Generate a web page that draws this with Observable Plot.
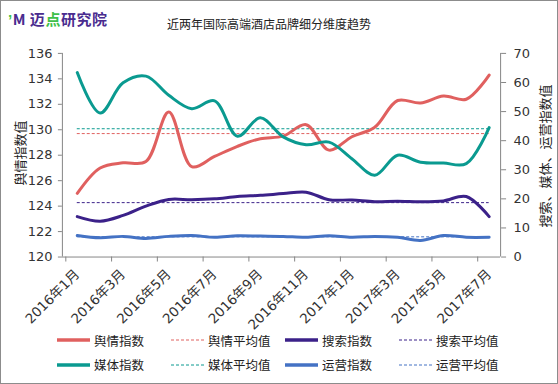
<!DOCTYPE html>
<html>
<head>
<meta charset="utf-8">
<script src="https://cdn.jsdelivr.net/npm/d3@7"></script>
<script src="https://cdn.jsdelivr.net/npm/@observablehq/plot@0.6"></script>
<style>
  html, body { margin: 0; padding: 0; background: #fff; }
  #wrap { position: relative; width: 558px; height: 384px; box-sizing: border-box; border: 1px solid #8c8c8c; overflow: hidden; font-family: "DejaVu Sans", "Noto Sans CJK SC", sans-serif; }
  #chart { position: absolute; left: -1px; top: -1px; }
  #title { position: absolute; left: 166px; top: 14px; font: 12px "Noto Sans CJK SC", sans-serif; color: #222; white-space: nowrap; }
  #logo { position: absolute; left: 7px; top: 7px; font: bold 15px "Noto Sans CJK SC", sans-serif; color: #4a2c8f; white-space: nowrap; letter-spacing: 0.5px; }
  #logo .g { color: #3fbf4a; }
  #legend { position: absolute; left: 56px; top: 327px; display: grid; grid-template-columns: repeat(4, 114px); grid-auto-rows: 24.5px; font: 12.5px "Noto Sans CJK SC", sans-serif; color: #222; }
  #legend .item { display: flex; align-items: center; white-space: nowrap; }
  #legend svg { margin-right: 4px; }
  .ytitle { position: absolute; font: 13px "Noto Sans CJK SC", sans-serif; color: #222; white-space: nowrap; transform: translate(-50%, -50%) rotate(-90deg); }
</style>
</head>
<body>
<div id="wrap">
  <div id="logo"><span class="g">ʼ</span>M 迈<span class="g">点</span>研究院</div>
  <div id="title"></div>
  <div id="chart"></div>
  <div class="ytitle" id="ltitle" style="left:18px; top:152px;"></div>
  <div class="ytitle" id="rtitle" style="left:543px; top:155px;"></div>
  <div id="legend"></div>
</div>
<script>
const titleText = "近两年国际高端酒店品牌细分维度趋势";
const leftTitle = "舆情指数值";
const rightTitle = "搜索、媒体、运营指数值";

const months = ["2016年1月","2016年2月","2016年3月","2016年4月","2016年5月","2016年6月","2016年7月","2016年8月","2016年9月","2016年10月","2016年11月","2016年12月","2017年1月","2017年2月","2017年3月","2017年4月","2017年5月","2017年6月","2017年7月"];

// left axis (舆情)
const sentiment = [125.0,127.0,127.4,127.5,131.4,127.1,127.9,128.7,129.3,129.5,130.4,128.4,129.45,130.2,132.3,132.1,132.65,132.4,134.3];
// right axis series
const search = [13.9,12.3,14.3,17.5,19.8,19.7,20.0,20.8,21.2,21.8,22.3,19.7,19.6,19.0,19.2,19.0,19.3,20.8,13.9];
const media = [63.4,49.5,59.9,62.2,55.6,51.0,53.7,41.5,47.9,41.3,38.6,39.5,33.8,28.1,35.0,32.6,32.3,32.1,44.5];
const operations = [7.4,6.6,7.1,6.4,7.1,7.4,6.8,7.3,7.2,7.1,6.8,7.3,6.8,7.1,6.8,5.7,7.4,6.8,6.8];

const sentimentAvg = 129.7;
const searchAvg = 18.7;
const mediaAvg = 44.1;
const operationsAvg = 6.95;

const leftTicks = [120,122,124,126,128,130,132,134,136];
const rightTicks = [0,10,20,30,40,50,60,70];

const seriesNames = ["舆情指数","舆情平均值","搜索指数","搜索平均值","媒体指数","媒体平均值","运营指数","运营平均值"];
const colors = { red: "#e0605f", purple: "#3b2189", teal: "#0a9a90", blue: "#4472c4" };

const leftDomain = [120, 136];
const rightDomain = [0, 70];
const toLeft = v => leftDomain[0] + (v - rightDomain[0]) * (leftDomain[1] - leftDomain[0]) / (rightDomain[1] - rightDomain[0]);
const toRight = v => rightDomain[0] + (v - leftDomain[0]) * (rightDomain[1] - rightDomain[0]) / (leftDomain[1] - leftDomain[0]);

const n = months.length;
const xDomain = [-0.65, n - 0.5];
const boundaries = d3.range(-0.5, n - 1, 2);
const labelIdx = d3.range(0, n, 2);
const axisColor = "#868686";
const idx = (d, i) => i;

const lineOpts = (color, conv) => ({ x: idx, y: conv ? (d => toLeft(d)) : (d => d), stroke: color, strokeWidth: 3, curve: "catmull-rom" });
const avgOpts = (color) => ({ x1: 0, x2: n - 1, stroke: color, strokeWidth: 1, strokeDasharray: "3,2" });

const chart = Plot.plot({
  width: 558,
  height: 345,
  marginTop: 53,
  marginBottom: 88,
  marginLeft: 62,
  marginRight: 57,
  x: { domain: xDomain, axis: null },
  y: { domain: leftDomain, axis: null },
  style: { fontFamily: "'DejaVu Sans', 'Noto Sans CJK SC', sans-serif", fontSize: "13px", color: "#333", background: "transparent" },
  marks: [
    Plot.ruleY([sentimentAvg], avgOpts(colors.red)),
    Plot.ruleY([toLeft(searchAvg)], avgOpts(colors.purple)),
    Plot.ruleY([toLeft(mediaAvg)], avgOpts(colors.teal)),
    Plot.ruleY([toLeft(operationsAvg)], avgOpts(colors.blue)),
    Plot.line(sentiment, lineOpts(colors.red, false)),
    Plot.line(search, lineOpts(colors.purple, true)),
    Plot.line(media, lineOpts(colors.teal, true)),
    Plot.line(operations, lineOpts(colors.blue, true)),
    Plot.ruleX([xDomain[0]], { stroke: axisColor }),
    Plot.ruleX([xDomain[1]], { stroke: axisColor }),
    Plot.ruleY([leftDomain[0]], { stroke: axisColor }),
    Plot.axisY(leftTicks, { anchor: "left", tickSize: 4, tickPadding: 6, stroke: axisColor, label: null, fontSize: 13, fill: "#333" }),
    Plot.axisY(rightTicks.map(toLeft), { anchor: "right", tickSize: 5, tickPadding: 8, stroke: axisColor, label: null, fontSize: 13, fill: "#333", tickFormat: d => Math.round(toRight(d)) }),
    Plot.axisX(boundaries, { anchor: "bottom", tickSize: 5, stroke: axisColor, label: null, tickFormat: () => "" }),
    Plot.axisX(labelIdx, { anchor: "bottom", tickSize: 0, tickPadding: 15, tickRotate: -45, label: null, fontSize: 13.5, fill: "#333", tickFormat: i => months[i] })
  ]
});
document.getElementById("chart").appendChild(chart);
document.getElementById("title").textContent = titleText;
document.getElementById("ltitle").textContent = leftTitle;
document.getElementById("rtitle").textContent = rightTitle;

const legendColors = [colors.red, colors.red, colors.purple, colors.purple, colors.teal, colors.teal, colors.blue, colors.blue];
const legend = document.getElementById("legend");
seriesNames.forEach((name, i) => {
  const avg = i % 2 === 1;
  const item = document.createElement("div");
  item.className = "item";
  item.innerHTML = `<svg width="33" height="6"><line x1="0" x2="33" y1="3" y2="3" stroke="${legendColors[i]}" stroke-width="${avg ? 1 : 3.5}" ${avg ? 'stroke-dasharray="3,2"' : ''}/></svg><span>${name}</span>`;
  legend.appendChild(item);
});
</script>
</body>
</html>
